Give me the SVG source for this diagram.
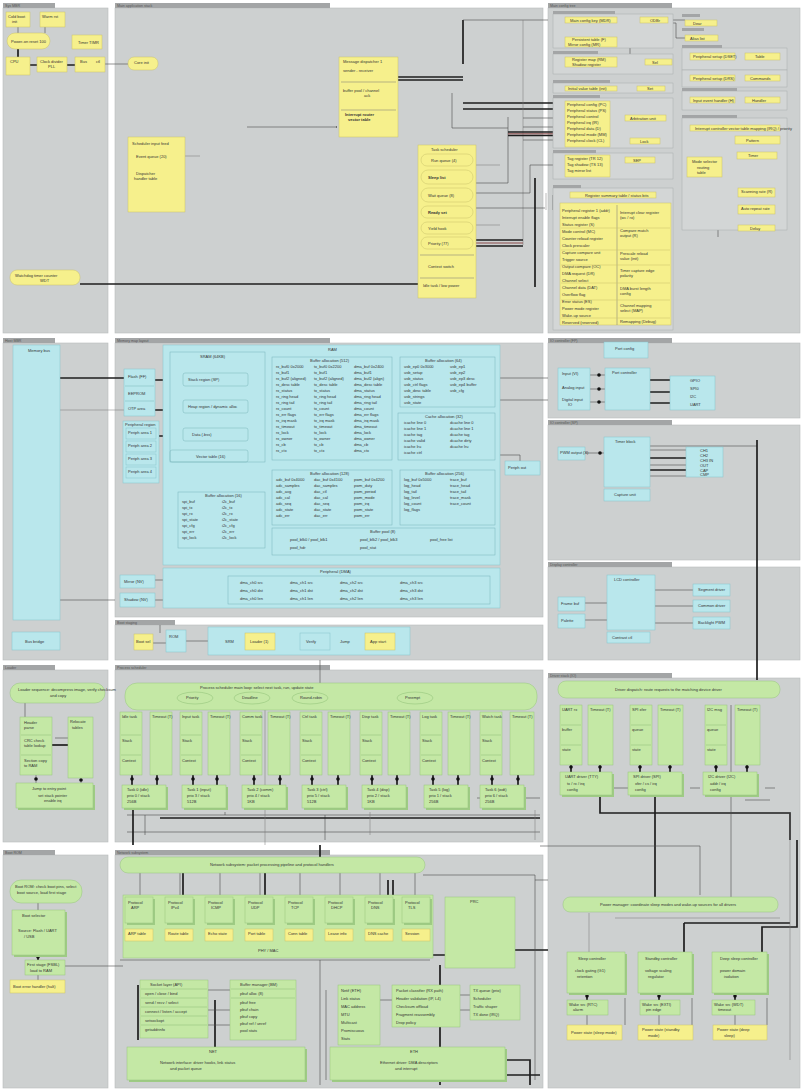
<svg xmlns="http://www.w3.org/2000/svg" width="804" height="1091" viewBox="0 0 804 1091">
<style>
.pn{fill:#cdd0d0;stroke:#b9bcbc;stroke-width:.6}
.hd{fill:#a3a5a6}
.sp{fill:#d3d6d6;stroke:#a9acac;stroke-width:.5}
.y{fill:#f6f08c;stroke:#c9c26a;stroke-width:.5}
.c{fill:#b9e7ec;stroke:#86c3c9;stroke-width:.5}
.g{fill:#c4e8a5;stroke:#96c47e;stroke-width:.5}
.gs{fill:#9ecb84}
.ci{fill:none;stroke:#7ab4ba;stroke-width:.5}
.gi{fill:none;stroke:#8cbf74;stroke-width:.5}
.yi{stroke:#c9c26a;stroke-width:.5}
.l{stroke:#4a4a4a;stroke-width:.6;fill:none}
.lg{stroke:#777;stroke-width:.5;fill:none}
.lk{stroke:#1e1e1e;stroke-width:1.7;fill:none}
.lr{stroke:#8a4a4a;stroke-width:1;fill:none}
.dt{fill:#111}
text{font-family:"Liberation Sans",Arial,sans-serif;font-size:4px;fill:#333}
.ht{font-size:3.6px;fill:#555}
</style>
<defs>
<marker id="a" viewBox="0 0 6 6" refX="5" refY="3" markerWidth="3" markerHeight="3" orient="auto"><path d="M0,0L6,3L0,6z" fill="#333"/></marker>
</defs>
<rect width="804" height="1091" fill="#fff"/>

<g id="panels">
<rect class="pn" x="3" y="8" width="105" height="325"/><rect class="hd" x="3" y="3" width="52" height="5"/>
<rect class="pn" x="115" y="8" width="428" height="325"/><rect class="hd" x="115" y="3" width="215" height="5"/>
<rect class="pn" x="548" y="8" width="252" height="325"/><rect class="hd" x="548" y="3" width="124" height="5"/>
<rect class="pn" x="3" y="343" width="105" height="317"/><rect class="hd" x="3" y="338" width="52" height="5"/>
<rect class="pn" x="115" y="343" width="428" height="274"/><rect class="hd" x="115" y="338" width="215" height="5"/>
<rect class="pn" x="548" y="343" width="252" height="75"/><rect class="hd" x="548" y="338" width="124" height="5"/>
<rect class="pn" x="548" y="425" width="252" height="135"/><rect class="hd" x="548" y="420" width="124" height="5"/>
<rect class="pn" x="548" y="567" width="252" height="93"/><rect class="hd" x="548" y="562" width="124" height="5"/>
<rect class="pn" x="115" y="625" width="428" height="35"/><rect class="hd" x="115" y="620" width="60" height="5"/>
<rect class="pn" x="3" y="670" width="105" height="172"/><rect class="hd" x="3" y="665" width="52" height="5"/>
<rect class="pn" x="115" y="670" width="428" height="172"/><rect class="hd" x="115" y="665" width="215" height="5"/>
<rect class="pn" x="548" y="678" width="252" height="410"/><rect class="hd" x="548" y="673" width="124" height="5"/>
<rect class="pn" x="3" y="855" width="105" height="233"/><rect class="hd" x="3" y="850" width="52" height="5"/>
<rect class="pn" x="115" y="855" width="428" height="233"/><rect class="hd" x="115" y="850" width="215" height="5"/>
<text class="ht" x="5" y="7">Sys MBR</text><text class="ht" x="117" y="7">Main application stack</text><text class="ht" x="550" y="7">Main config tree</text>
<text class="ht" x="5" y="342">Host MBR</text><text class="ht" x="117" y="342">Memory map layout</text><text class="ht" x="550" y="342">IO controller (FP)</text>
<text class="ht" x="550" y="424">IO controller (SP)</text><text class="ht" x="550" y="566">Display controller</text><text class="ht" x="117" y="624">Boot staging</text>
<text class="ht" x="5" y="669">Loader</text><text class="ht" x="117" y="669">Process scheduler</text><text class="ht" x="550" y="677">Driver stack (IO)</text>
<text class="ht" x="5" y="854">Boot ROM</text><text class="ht" x="117" y="854">Network subsystem</text>
</g>

<g id="connectors">
<path class="l" d="M18,27V33M45,27V33"/>
<path class="lk" d="M18,49V57M30,65H37M67,65H75"/>
<path class="l" d="M105,64H128"/>
<path class="lk" d="M80,284H418"/>
<path class="l" d="M247,127H337" marker-end="url(#a)"/>
<path class="lg" d="M185,156H200"/>
<path class="lk" d="M398,77H463M398,80H463"/>
<path class="lk" d="M463,20V64"/>
<path class="l" d="M463,20H548"/>
<path class="lk" d="M463,103H565M463,109H565"/>
<path class="lg" d="M523,20V245M546,193V210"/>
<path class="l" d="M452,93V128H508M508,117V183H476M476,193H530V165H565M476,208H545"/>
<path class="lk" d="M508,132H565M508,135.5H565"/>
<path class="lr" d="M508,133.8H565"/>
<path class="lk" d="M476,240H523M476,246H523"/>
<path class="lr" d="M476,243H523"/>
<path class="lk" d="M535,178V287"/>
<path class="lg" d="M476,165H500M476,225H500"/>
<path class="l" d="M455,268H476M523,118H565M523,127H565M523,140H565"/>
<path class="lk" d="M617,20H640M617,62H645"/>
<path class="l" d="M617,42H630V62M668,20H685M668,23H676V38H685M617,88H637M610,118H625M610,130H620V118M610,142H630M610,158H625M735,57H745M735,78H745M735,100H745M718,131V237M718,140H738M718,155H738M718,175H738M718,192H738M718,209H738M718,227H738"/>
<path class="lk" d="M645,121V138"/>
<path class="l" d="M612,195V203M560,195H553V210"/>
<path class="lk" d="M613,198V206"/>
<path class="lk" d="M60,378H124M155,380H172"/>
<path class="lg" d="M60,410H124"/>
<path class="lk" d="M155,410H172M159,436H172"/>
<path class="l" d="M172,380H183M172,410H183M172,436H183"/>
<path class="l" d="M248,387H258V440H248M248,405H270"/>
<path class="lk" d="M262,410V465"/>
<path class="l" d="M500,378H548M500,400H548M500,455H520V462"/>
<path class="l" d="M60,600H115M155,580H165M155,600H165"/>
<path class="l" d="M590,375H605M590,389H605M590,402H605"/>
<path class="lk" d="M650,380H670M650,392H670M650,403H670"/>
<path class="l" d="M585,453H604"/>
<path class="lk" d="M650,458H686M650,470H686"/>
<path class="l" d="M650,446H757M650,450H686M650,465H686M650,476H686"/>
<path class="lk" d="M757,440V680"/>
<path class="l" d="M585,603H607M585,620H607M655,590H693M655,606H693M655,623H693"/>
<path class="l" d="M153,643H166M186,641H208M275,641H300M330,641H365M395,641H405"/>
<path class="l" d="M160,625V633"/>
<path class="l" d="M25,703V717M55,738H68M36,775V783M81,778V783"/>
<path class="lk" d="M52,745H68"/>
<path class="l" d="M320,660V683"/>
<path class="lk" d="M132,775V785M157,775V785M193,775V785M217,775V785M254,775V785M280,775V785M312,775V785M338,775V785M372,775V785M397,775V785M433,775V785M458,775V785M492,775V785M518,775V785"/>
<path class="l" d="M127,815H540M127,832H540M145,835V815M225,815V812M325,815V840M477,798H540"/>
<path class="lk" d="M160,818H540M133,808V845"/>
<path class="lg" d="M265,710V845M370,812V835M535,810V840"/>
<path class="lk" d="M320,845V858"/>
<path class="lk" d="M571,765V772M600,765V772M640,765V772M670,765V772M716,765V772M747,765V772"/>
<path class="lk" d="M600,795V813H790V840M655,795V897M797,840V927H762V952M684,923H790M684,923V952"/>
<path class="l" d="M540,846H700V895M731,705V897M745,800H770M610,788H630M690,788H700M765,788H775"/>
<path class="lg" d="M615,918H780M589,913V952M790,813V1060"/>
<path class="l" d="M587,1015V1025M659,1015V1025M735,1015V1025M625,1025V998M692,1025V998M767,1025V998"/>
<path class="lk" d="M587,993V1000M659,993V1000M735,993V1000"/>
<path class="l" d="M38,903V910M65,966H123M38,975V980"/>
<path class="lk" d="M38,955V960"/>
<path class="l" d="M140,873V897M180,873V897M220,873V897M260,873V897M300,873V897M340,873V897M380,873V897M415,873V897"/>
<path class="lk" d="M183,873V897M265,873V897M388,880V897M393,880V897"/>
<path class="lk" d="M515,950H548M430,955H515M440,965V1085"/>
<path class="l" d="M120,960H430M320,960V1085M535,880H548M423,875H535V1080"/>
<path class="lk" d="M138,985V1040M215,1000V1070"/>
<path class="lk" d="M505,1075H540M505,1060H530V1085"/>
<path class="l" d="M208,990H230M208,1010H230M208,1025H230M380,1000H392M460,995H470M460,1010H470M326,990V1080"/>
<g id="dots">
<circle class="dt" cx="172" cy="378" r="1.8"/><circle class="dt" cx="172" cy="393" r="1.8"/><circle class="dt" cx="172" cy="409" r="1.8"/><circle class="dt" cx="172" cy="436" r="1.8"/><circle class="dt" cx="253" cy="440" r="1.8"/>
<circle class="dt" cx="599" cy="375" r="1.8"/><circle class="dt" cx="599" cy="389" r="1.8"/><circle class="dt" cx="599" cy="402" r="1.8"/><circle class="dt" cx="600" cy="453" r="1.8"/>
<circle class="dt" cx="132" cy="779" r="1.8"/><circle class="dt" cx="157" cy="779" r="1.8"/><circle class="dt" cx="193" cy="779" r="1.8"/><circle class="dt" cx="217" cy="779" r="1.8"/><circle class="dt" cx="254" cy="779" r="1.8"/><circle class="dt" cx="280" cy="779" r="1.8"/><circle class="dt" cx="312" cy="779" r="1.8"/><circle class="dt" cx="338" cy="779" r="1.8"/><circle class="dt" cx="372" cy="779" r="1.8"/><circle class="dt" cx="397" cy="779" r="1.8"/><circle class="dt" cx="433" cy="779" r="1.8"/><circle class="dt" cx="458" cy="779" r="1.8"/><circle class="dt" cx="492" cy="779" r="1.8"/><circle class="dt" cx="518" cy="779" r="1.8"/>
<circle class="dt" cx="36" cy="779" r="1.8"/><circle class="dt" cx="81" cy="780" r="1.8"/>
<circle class="dt" cx="571" cy="767" r="1.8"/><circle class="dt" cx="600" cy="767" r="1.8"/><circle class="dt" cx="640" cy="767" r="1.8"/><circle class="dt" cx="670" cy="767" r="1.8"/><circle class="dt" cx="716" cy="767" r="1.8"/><circle class="dt" cx="747" cy="767" r="1.8"/>
<circle class="dt" cx="587" cy="996" r="1.8"/><circle class="dt" cx="659" cy="996" r="1.8"/><circle class="dt" cx="735" cy="996" r="1.8"/>
<circle class="dt" cx="38" cy="957" r="1.8"/><circle class="dt" cx="645" cy="129" r="1.5"/>
</g>
</g>

<g id="a1"><rect class="y" x="6" y="12" width="24" height="15"/><text x="8" y="18">Cold boot</text><text x="12" y="23">init</text></g>
<g id="a2"><rect class="y" x="40" y="12" width="25" height="15"/><text x="42" y="18">Warm rst</text></g>
<g id="a3"><rect class="y" x="7" y="33" width="43" height="16" rx="8"/><text x="11" y="43">Power-on reset 100</text></g>
<g id="a4"><rect class="y" x="72" y="35" width="30" height="14"/><text x="78" y="44">Timer TIMR</text></g>
<g id="a5"><rect class="y" x="6" y="57" width="24" height="18"/><text x="10" y="63">CPU</text></g>
<g id="a6"><rect class="y" x="37" y="57" width="30" height="15"/><text x="40" y="63">Clock divider</text><text x="48" y="68">PLL</text></g>
<g id="a7"><rect class="y" x="75" y="57" width="30" height="15"/><text x="80" y="63">Bus</text><text x="96" y="63">ctl</text></g>
<g id="a8"><rect class="y" x="10" y="270" width="70" height="15" rx="7"/><text x="15" y="277">Watchdog timer counter</text><text x="40" y="282">WDT</text></g>

<g id="b1"><rect class="y" x="128" y="57" width="30" height="13" rx="6"/><text x="134" y="64">Core init</text></g>
<g id="b2"><rect class="y" x="128" y="137" width="57" height="75"/><text x="132" y="145">Scheduler input feed</text><text x="136" y="158">Event queue (20)</text><text x="136" y="175">Dispatcher</text><text x="134" y="180">handler table</text></g>
<g id="b3"><rect class="y" x="339" y="57" width="59" height="80"/><text x="343" y="63">Message dispatcher 1</text><text x="343" y="72">sender - receiver</text><line class="lg" x1="341" y1="82" x2="396" y2="82"/><text x="343" y="92">buffer pool / channel</text><text x="364" y="97">ack</text><line class="lg" x1="341" y1="110" x2="396" y2="110"/><text x="345" y="116" style="font-weight:bold">Interrupt router</text><text x="348" y="121" style="font-weight:bold">vector table</text></g>
<g id="b4"><rect class="y" x="418" y="145" width="58" height="153"/><text x="431" y="151">Task scheduler</text><rect class="y" x="421" y="154" width="52" height="12" rx="6"/><text x="431" y="162">Run queue (4)</text><rect class="y" x="421" y="170" width="52" height="14" rx="7"/><text x="428" y="179" style="font-weight:bold">Sleep list</text><rect class="y" x="421" y="188" width="52" height="14" rx="7"/><text x="428" y="197">Wait queue (8)</text><rect class="y" x="421" y="206" width="52" height="12" rx="6"/><text x="428" y="214" style="font-weight:bold">Ready set</text><rect class="y" x="421" y="222" width="52" height="12" rx="6"/><text x="428" y="230">Yield hook</text><rect class="y" x="421" y="237" width="52" height="12" rx="6"/><text x="428" y="245">Priority (77)</text><line class="lg" x1="420" y1="255" x2="474" y2="255"/><text x="428" y="268">Context switch</text><line class="lg" x1="420" y1="278" x2="474" y2="278"/><text x="423" y="287">Idle task / low power</text></g>

<g id="c-sub">
<rect class="sp" x="553" y="14" width="120" height="34"/><rect class="hd" x="553" y="11" width="62" height="3"/>
<rect class="sp" x="553" y="54" width="120" height="20"/><rect class="hd" x="553" y="51" width="45" height="3"/>
<rect class="sp" x="553" y="83" width="120" height="10"/><rect class="hd" x="553" y="80" width="57" height="3"/>
<rect class="sp" x="553" y="98" width="120" height="50"/><rect class="hd" x="553" y="95" width="47" height="3"/>
<rect class="sp" x="553" y="153" width="120" height="26"/><rect class="hd" x="553" y="150" width="43" height="3"/>
<rect class="sp" x="553" y="188" width="120" height="142"/><rect class="hd" x="553" y="185" width="28" height="3"/>
<rect class="hd" x="682" y="14" width="18" height="3"/><rect class="hd" x="682" y="28" width="22" height="3"/><rect class="hd" x="682" y="45" width="40" height="3"/>
<rect class="sp" x="682" y="48" width="105" height="22"/><rect class="sp" x="682" y="70" width="105" height="17"/>
<rect class="hd" x="682" y="88" width="55" height="3"/><rect class="sp" x="682" y="91" width="105" height="19"/>
<rect class="hd" x="682" y="115" width="55" height="3"/><rect class="sp" x="682" y="118" width="105" height="112"/>
</g>
<g id="c1"><rect class="y" x="565" y="17" width="52" height="6"/><text x="570" y="21.5">Main config key (MDR)</text></g>
<g id="c2"><rect class="y" x="640" y="17" width="28" height="6"/><text x="650" y="21.5">ODBr</text></g>
<g id="c3"><rect class="y" x="565" y="37" width="52" height="10"/><text x="572" y="41">Persistent table (F)</text><text x="568" y="46">Mirror config (MR)</text></g>
<g id="c4"><rect class="y" x="565" y="57" width="52" height="10"/><text x="572" y="61">Register map (RM)</text><text x="572" y="66">Shadow register</text></g>
<g id="c5"><rect class="y" x="645" y="59" width="27" height="6"/><text x="652" y="63.5">Sel</text></g>
<g id="c6"><rect class="y" x="565" y="86" width="52" height="5"/><text x="568" y="90">Initial value table (init)</text></g>
<g id="c7"><rect class="y" x="637" y="86" width="28" height="5"/><text x="647" y="90">Set</text></g>
<g id="c8"><rect class="y" x="565" y="101" width="45" height="46"/><text x="567" y="106">Peripheral config (PC)</text><text x="567" y="112">Peripheral status (PS)</text><text x="567" y="118">Peripheral control</text><text x="567" y="124">Peripheral irq (IR)</text><text x="567" y="130">Peripheral data (D)</text><text x="567" y="136">Peripheral mode (MM)</text><text x="567" y="142">Peripheral clock (CL)</text></g>
<g id="c9"><rect class="y" x="625" y="115" width="41" height="6"/><text x="630" y="119.5">Arbitration unit</text></g>
<g id="c10"><rect class="y" x="630" y="138" width="30" height="6"/><text x="640" y="142.5">Lock</text></g>
<g id="c11"><rect class="y" x="565" y="155" width="45" height="22"/><text x="567" y="160">Tag register (TR 12)</text><text x="567" y="166">Tag shadow (TS 13)</text><text x="567" y="172">Tag mirror list</text></g>
<g id="c12"><rect class="y" x="625" y="157" width="30" height="6"/><text x="633" y="161.5">SEP</text></g>
<g id="c13"><rect class="y" x="685" y="20" width="32" height="6"/><text x="693" y="24.5">Dear</text></g>
<g id="c14"><rect class="y" x="685" y="35" width="33" height="6"/><text x="690" y="39.5">Alias list</text></g>
<g id="c15"><rect class="y" x="690" y="53" width="45" height="7"/><text x="693" y="58">Peripheral setup (DSET)</text></g>
<g id="c16"><rect class="y" x="745" y="53" width="35" height="7"/><text x="755" y="58">Table</text></g>
<g id="c17"><rect class="y" x="690" y="75" width="45" height="6"/><text x="693" y="79.5">Peripheral setup (DRS)</text></g>
<g id="c18"><rect class="y" x="745" y="75" width="35" height="6"/><text x="750" y="79.5">Commands</text></g>
<g id="c19"><rect class="y" x="690" y="97" width="45" height="6"/><text x="693" y="101.5">Input event handler (H)</text></g>
<g id="c20"><rect class="y" x="745" y="97" width="35" height="6"/><text x="752" y="101.5">Handler</text></g>
<g id="c21"><rect class="y" x="690" y="125" width="90" height="6"/><text x="695" y="129.5">Interrupt controller vector table mapping (IRQ) / priority</text></g>
<g id="c22"><rect class="y" x="687" y="157" width="35" height="20"/><text x="692" y="163">Mode selector</text><text x="697" y="169">routing</text><text x="697" y="174">table</text></g>
<g id="c23"><rect class="y" x="735" y="136" width="45" height="8"/><text x="746" y="141.5">Pattern</text></g>
<g id="c24"><rect class="y" x="737" y="152" width="40" height="7"/><text x="748" y="157">Timer</text></g>
<g id="c25"><rect class="y" x="738" y="188" width="37" height="9"/><text x="741" y="193">Scanning rate (R)</text></g>
<g id="c26"><rect class="y" x="738" y="205" width="37" height="9"/><text x="741" y="210">Auto repeat rate</text></g>
<g id="c27"><rect class="y" x="738" y="225" width="37" height="6"/><text x="750" y="229.5">Delay</text></g>
<g id="c28"><rect class="y" x="570" y="192" width="86" height="6"/><text x="585" y="196.5">Register summary table / status bits</text></g>
<g id="c29"><rect class="y" x="560" y="203" width="111" height="122"/>
<line class="lg" x1="617" y1="205" x2="617" y2="325"/>
<path class="yi" d="M561,228H670M561,250H670M561,265H670M561,283H670M561,300H670M561,318H670"/>
<text x="562" y="212">Peripheral register 1 (addr)</text><text x="562" y="219">Interrupt enable flags</text><text x="562" y="226">Status register (S)</text><text x="562" y="233">Mode control (MC)</text><text x="562" y="240">Counter reload register</text><text x="562" y="247">Clock prescaler</text><text x="562" y="254">Capture compare unit</text><text x="562" y="261">Trigger source</text><text x="562" y="268">Output compare (OC)</text><text x="562" y="275">DMA request (DR)</text><text x="562" y="282">Channel select</text><text x="562" y="289">Channel data (DAT)</text><text x="562" y="296">Overflow flag</text><text x="562" y="303">Error status (ES)</text><text x="562" y="310">Power mode register</text><text x="562" y="317">Wake-up source</text><text x="562" y="324">Reserved (reserved)</text>
<text x="620" y="214">Interrupt clear register</text><text x="620" y="219">(wc / ro)</text><text x="620" y="232">Compare match</text><text x="620" y="237">output (R)</text><text x="620" y="255">Prescale reload</text><text x="620" y="260">value (init)</text><text x="620" y="272">Timer capture edge</text><text x="620" y="277">polarity</text><text x="620" y="290">DMA burst length</text><text x="620" y="295">config</text><text x="620" y="307">Channel mapping</text><text x="620" y="312">select (MAP)</text><text x="620" y="323">Remapping (Debug)</text>
</g>

<g id="d1"><rect class="c" x="13" y="345" width="47" height="275"/><text x="28" y="352">Memory bus</text></g>
<g id="d2"><rect class="c" x="12" y="632" width="48" height="18"/><text x="25" y="643">Bus bridge</text></g>

<g id="e1"><rect class="c" x="124" y="369" width="31" height="47"/><text x="128" y="378">Flash (FF)</text><line class="ci" x1="125" y1="386" x2="154" y2="386"/><text x="128" y="395">EEPROM</text><line class="ci" x1="125" y1="401" x2="154" y2="401"/><text x="128" y="410">OTP area</text></g>
<g id="e2"><rect class="c" x="123" y="421" width="36" height="62"/><text x="125" y="426">Peripheral region</text><rect class="c" x="126" y="428" width="30" height="11"/><text x="128" y="434">Periph area 1</text><rect class="c" x="126" y="441" width="30" height="11"/><text x="128" y="447">Periph area 2</text><rect class="c" x="126" y="454" width="30" height="11"/><text x="128" y="460">Periph area 3</text><rect class="c" x="126" y="467" width="30" height="11"/><text x="128" y="473">Periph area 4</text></g>
<g id="e3"><rect class="c" x="163" y="345" width="337" height="220"/>
<rect class="ci" x="170" y="352" width="95" height="110"/><text x="200" y="358">SRAM (64KB)</text>
<rect class="ci" x="183" y="373" width="65" height="13" rx="2"/><text x="188" y="381">Stack region (SP)</text>
<rect class="ci" x="183" y="400" width="65" height="13" rx="2"/><text x="188" y="408">Heap region / dynamic alloc</text>
<rect class="ci" x="183" y="428" width="65" height="13" rx="2"/><text x="192" y="436">Data (.bss)</text>
<rect class="ci" x="170" y="450" width="78" height="12" rx="2"/><text x="196" y="458">Vector table (16)</text>
<text x="328" y="351">RAM</text>
<rect class="ci" x="272" y="357" width="120" height="103"/><text x="310" y="362">Buffer allocation (512)</text>
<rect class="ci" x="400" y="357" width="95" height="50"/><text x="425" y="362">Buffer allocation (64)</text>
<rect class="ci" x="398" y="413" width="97" height="47"/><text x="425" y="418">Cache allocation (32)</text>
<rect class="ci" x="178" y="492" width="87" height="56"/><text x="205" y="497">Buffer allocation (16)</text>
<rect class="ci" x="272" y="470" width="120" height="55"/><text x="310" y="475">Buffer allocation (128)</text>
<rect class="ci" x="400" y="470" width="95" height="55"/><text x="425" y="475">Buffer allocation (256)</text>
<rect class="ci" x="272" y="528" width="223" height="27"/><text x="370" y="533">Buffer pool (8)</text>
</g>
<g id="e3txt" style="font-size:3.2px">
<text x="276" y="368">rx_buf0 0x2000</text><text x="314" y="368">tx_buf0 0x2200</text><text x="354" y="368">dma_buf 0x2400</text>
<text x="276" y="374">rx_buf1</text><text x="314" y="374">tx_buf1</text><text x="354" y="374">dma_buf1</text>
<text x="276" y="380">rx_buf2 (aligned)</text><text x="314" y="380">tx_buf2 (aligned)</text><text x="354" y="380">dma_buf2 (align)</text>
<text x="276" y="386">rx_desc table</text><text x="314" y="386">tx_desc table</text><text x="354" y="386">dma_desc table</text>
<text x="276" y="392">rx_status</text><text x="314" y="392">tx_status</text><text x="354" y="392">dma_status</text>
<text x="276" y="398">rx_ring head</text><text x="314" y="398">tx_ring head</text><text x="354" y="398">dma_ring head</text>
<text x="276" y="404">rx_ring tail</text><text x="314" y="404">tx_ring tail</text><text x="354" y="404">dma_ring tail</text>
<text x="276" y="410">rx_count</text><text x="314" y="410">tx_count</text><text x="354" y="410">dma_count</text>
<text x="276" y="416">rx_err flags</text><text x="314" y="416">tx_err flags</text><text x="354" y="416">dma_err flags</text>
<text x="276" y="422">rx_irq mask</text><text x="314" y="422">tx_irq mask</text><text x="354" y="422">dma_irq mask</text>
<text x="276" y="428">rx_timeout</text><text x="314" y="428">tx_timeout</text><text x="354" y="428">dma_timeout</text>
<text x="276" y="434">rx_lock</text><text x="314" y="434">tx_lock</text><text x="354" y="434">dma_lock</text>
<text x="276" y="440">rx_owner</text><text x="314" y="440">tx_owner</text><text x="354" y="440">dma_owner</text>
<text x="276" y="446">rx_cb</text><text x="314" y="446">tx_cb</text><text x="354" y="446">dma_cb</text>
<text x="276" y="452">rx_ctx</text><text x="314" y="452">tx_ctx</text><text x="354" y="452">dma_ctx</text>
<text x="404" y="368">usb_ep0 0x3000</text><text x="450" y="368">usb_ep1</text><text x="404" y="374">usb_setup</text><text x="450" y="374">usb_ep2</text><text x="404" y="380">usb_status</text><text x="450" y="380">usb_ep3 desc</text><text x="404" y="386">usb_ctrl flags</text><text x="450" y="386">usb_ep4 buffer</text><text x="404" y="392">usb_desc table</text><text x="450" y="392">usb_cfg</text><text x="404" y="398">usb_strings</text><text x="404" y="404">usb_state</text>
<text x="404" y="424">icache line 0</text><text x="450" y="424">dcache line 0</text><text x="404" y="430">icache line 1</text><text x="450" y="430">dcache line 1</text><text x="404" y="436">icache tag</text><text x="450" y="436">dcache tag</text><text x="404" y="442">icache valid</text><text x="450" y="442">dcache dirty</text><text x="404" y="448">icache lru</text><text x="450" y="448">dcache lru</text><text x="404" y="454">icache ctrl</text>
<text x="182" y="503">spi_buf</text><text x="222" y="503">i2c_buf</text><text x="182" y="509">spi_tx</text><text x="222" y="509">i2c_tx</text><text x="182" y="515">spi_rx</text><text x="222" y="515">i2c_rx</text><text x="182" y="521">spi_state</text><text x="222" y="521">i2c_state</text><text x="182" y="527">spi_cfg</text><text x="222" y="527">i2c_cfg</text><text x="182" y="533">spi_err</text><text x="222" y="533">i2c_err</text><text x="182" y="539">spi_lock</text><text x="222" y="539">i2c_lock</text>
<text x="276" y="481">adc_buf 0x4000</text><text x="314" y="481">dac_buf 0x4100</text><text x="354" y="481">pwm_buf 0x4200</text><text x="276" y="487">adc_samples</text><text x="314" y="487">dac_samples</text><text x="354" y="487">pwm_duty</text><text x="276" y="493">adc_avg</text><text x="314" y="493">dac_ctl</text><text x="354" y="493">pwm_period</text><text x="276" y="499">adc_cal</text><text x="314" y="499">dac_cal</text><text x="354" y="499">pwm_mode</text><text x="276" y="505">adc_seq</text><text x="314" y="505">dac_seq</text><text x="354" y="505">pwm_irq</text><text x="276" y="511">adc_state</text><text x="314" y="511">dac_state</text><text x="354" y="511">pwm_state</text><text x="276" y="517">adc_err</text><text x="314" y="517">dac_err</text><text x="354" y="517">pwm_err</text>
<text x="404" y="481">log_buf 0x5000</text><text x="450" y="481">trace_buf</text><text x="404" y="487">log_head</text><text x="450" y="487">trace_head</text><text x="404" y="493">log_tail</text><text x="450" y="493">trace_tail</text><text x="404" y="499">log_level</text><text x="450" y="499">trace_mask</text><text x="404" y="505">log_count</text><text x="450" y="505">trace_count</text><text x="404" y="511">log_flags</text>
<text x="290" y="541">pool_blk0 / pool_blk1</text><text x="360" y="541">pool_blk2 / pool_blk3</text><text x="430" y="541">pool_free list</text><text x="290" y="549">pool_hdr</text><text x="360" y="549">pool_stat</text>
</g>
<g id="e4"><rect class="c" x="163" y="568" width="337" height="40"/><text x="320" y="573">Peripheral (DMA)</text><rect class="ci" x="228" y="576" width="262" height="28"/>
<text x="240" y="584">dma_ch0 src</text><text x="290" y="584">dma_ch1 src</text><text x="340" y="584">dma_ch2 src</text><text x="400" y="584">dma_ch3 src</text>
<text x="240" y="592">dma_ch0 dst</text><text x="290" y="592">dma_ch1 dst</text><text x="340" y="592">dma_ch2 dst</text><text x="400" y="592">dma_ch3 dst</text>
<text x="240" y="600">dma_ch0 len</text><text x="290" y="600">dma_ch1 len</text><text x="340" y="600">dma_ch2 len</text><text x="400" y="600">dma_ch3 len</text></g>
<g id="e5"><rect class="c" x="120" y="575" width="35" height="13"/><text x="124" y="583">Mirror (NV)</text></g>
<g id="e6"><rect class="c" x="120" y="593" width="35" height="14"/><text x="124" y="601">Shadow (NV)</text></g>
<g id="e7"><rect class="c" x="505" y="461" width="35" height="14"/><text x="508" y="469">Periph out</text></g>

<g id="f1"><rect class="c" x="604" y="342" width="44" height="16"/><text x="615" y="350">Port config</text></g>
<g id="f2"><rect class="c" x="558" y="368" width="32" height="42"/><text x="562" y="375">Input (VI)</text><text x="562" y="389">Analog input</text><text x="562" y="401">Digital input</text><text x="568" y="406">IO</text></g>
<g id="f3"><rect class="c" x="605" y="368" width="45" height="42"/><text x="612" y="374">Port controller</text></g>
<g id="f4"><rect class="c" x="670" y="376" width="45" height="34"/><text x="690" y="382">GPIO</text><text x="690" y="390">SPI0</text><text x="690" y="398">I2C</text><text x="690" y="406">UART</text></g>
<g id="g1"><rect class="c" x="558" y="447" width="27" height="13"/><text x="560" y="454">PWM output (X)</text></g>
<g id="g2"><rect class="c" x="604" y="437" width="46" height="50"/><text x="615" y="443">Timer block</text></g>
<g id="g3"><rect class="c" x="686" y="447" width="37" height="30"/><text x="700" y="452">CH1</text><text x="700" y="457">CH2</text><text x="700" y="462">CH3 IN</text><text x="700" y="467">OUT</text><text x="700" y="472">CAP</text><text x="700" y="476">CMP</text></g>
<g id="g4"><rect class="c" x="604" y="489" width="46" height="12"/><text x="614" y="496">Capture unit</text></g>
<g id="h1"><rect class="c" x="558" y="597" width="27" height="14"/><text x="561" y="605">Frame buf</text></g>
<g id="h2"><rect class="c" x="558" y="614" width="27" height="14"/><text x="561" y="622">Palette</text></g>
<g id="h3"><rect class="c" x="607" y="575" width="48" height="55"/><text x="614" y="581">LCD controller</text></g>
<g id="h4"><rect class="c" x="693" y="584" width="37" height="12"/><text x="698" y="591">Segment driver</text></g>
<g id="h5"><rect class="c" x="693" y="600" width="37" height="12"/><text x="698" y="607">Common driver</text></g>
<g id="h6"><rect class="c" x="693" y="617" width="37" height="12"/><text x="698" y="624">Backlight PWM</text></g>
<g id="h7"><rect class="c" x="607" y="632" width="43" height="11"/><text x="612" y="639">Contrast ctl</text></g>

<g id="i1"><rect class="y" x="134" y="634" width="19" height="16"/><text x="136" y="643">Boot sel</text></g>
<g id="i2"><rect class="c" x="166" y="630" width="20" height="22"/><text x="169" y="638">ROM</text></g>
<g id="i3"><rect class="c" x="208" y="627" width="202" height="28"/><text x="225" y="643">SRM</text><rect class="y" x="245" y="633" width="30" height="17"/><text x="250" y="643">Loader (1)</text><rect class="c" x="300" y="633" width="30" height="17"/><text x="306" y="643">Verify</text><text x="340" y="643">Jump</text><rect class="y" x="365" y="633" width="30" height="17"/><text x="370" y="643">App start</text></g>

<g id="j1"><rect class="g" x="10" y="683" width="95" height="20" rx="10"/><text x="18" y="691">Loader sequence: decompress image, verify checksum</text><text x="50" y="697">and copy</text></g>
<g id="j2"><rect class="g" x="20" y="717" width="32" height="58"/><text x="24" y="724">Header</text><text x="24" y="729">parse</text><line class="gi" x1="21" y1="735" x2="51" y2="735"/><text x="24" y="742">CRC check</text><text x="24" y="747">table lookup</text><line class="gi" x1="21" y1="755" x2="51" y2="755"/><text x="24" y="762">Section copy</text><text x="24" y="767">to RAM</text></g>
<g id="j3"><rect class="g" x="68" y="717" width="25" height="61"/><text x="70" y="723">Relocate</text><text x="72" y="729">tables</text></g>
<g id="j4"><rect class="gs" x="18" y="785" width="77" height="25"/><rect class="g" x="16" y="783" width="77" height="25"/><text x="32" y="790">Jump to entry point</text><text x="38" y="797">set stack pointer</text><text x="44" y="802">enable irq</text></g>

<g id="k0"><rect class="g" x="125" y="683" width="412" height="27" rx="12"/><text x="200" y="689">Process scheduler main loop: select next task, run, update state</text><ellipse class="gi" cx="195" cy="698" rx="18" ry="6"/><text x="186" y="699">Priority</text><ellipse class="gi" cx="252" cy="698" rx="18" ry="6"/><text x="242" y="699">Deadline</text><ellipse class="gi" cx="310" cy="698" rx="18" ry="6"/><text x="300" y="699">Round-robin</text><ellipse class="gi" cx="415" cy="698" rx="18" ry="6"/><text x="405" y="699">Preempt</text></g>
<g id="k1"><rect class="g" x="120" y="712" width="22" height="63"/><text x="122" y="718">Idle task</text><line class="gi" x1="121" y1="735" x2="141" y2="735"/><text x="122" y="742">Stack</text><line class="gi" x1="121" y1="755" x2="141" y2="755"/><text x="122" y="762">Context</text><rect class="g" x="150" y="712" width="22" height="63"/><text x="152" y="718">Timeout (T)</text><rect class="gs" x="124" y="787" width="44" height="23"/><rect class="g" x="122" y="785" width="44" height="23"/><text x="127" y="791">Task 0 (idle)</text><text x="127" y="797">prio 0 / stack</text><text x="127" y="803">256B</text></g>
<g id="k2"><rect class="g" x="180" y="712" width="22" height="63"/><text x="182" y="718">Input task</text><line class="gi" x1="181" y1="735" x2="201" y2="735"/><text x="182" y="742">Stack</text><line class="gi" x1="181" y1="755" x2="201" y2="755"/><text x="182" y="762">Context</text><rect class="g" x="208" y="712" width="22" height="63"/><text x="210" y="718">Timeout (T)</text><rect class="gs" x="184" y="787" width="44" height="23"/><rect class="g" x="182" y="785" width="44" height="23"/><text x="187" y="791">Task 1 (input)</text><text x="187" y="797">prio 3 / stack</text><text x="187" y="803">512B</text></g>
<g id="k3"><rect class="g" x="240" y="712" width="22" height="63"/><text x="242" y="718">Comm task</text><line class="gi" x1="241" y1="735" x2="261" y2="735"/><text x="242" y="742">Stack</text><line class="gi" x1="241" y1="755" x2="261" y2="755"/><text x="242" y="762">Context</text><rect class="g" x="268" y="712" width="22" height="63"/><text x="270" y="718">Timeout (T)</text><rect class="gs" x="244" y="787" width="44" height="23"/><rect class="g" x="242" y="785" width="44" height="23"/><text x="247" y="791">Task 2 (comm)</text><text x="247" y="797">prio 4 / stack</text><text x="247" y="803">1KB</text></g>
<g id="k4"><rect class="g" x="300" y="712" width="22" height="63"/><text x="302" y="718">Ctrl task</text><line class="gi" x1="301" y1="735" x2="321" y2="735"/><text x="302" y="742">Stack</text><line class="gi" x1="301" y1="755" x2="321" y2="755"/><text x="302" y="762">Context</text><rect class="g" x="328" y="712" width="22" height="63"/><text x="330" y="718">Timeout (T)</text><rect class="gs" x="304" y="787" width="44" height="23"/><rect class="g" x="302" y="785" width="44" height="23"/><text x="307" y="791">Task 3 (ctrl)</text><text x="307" y="797">prio 5 / stack</text><text x="307" y="803">512B</text></g>
<g id="k5"><rect class="g" x="360" y="712" width="22" height="63"/><text x="362" y="718">Disp task</text><line class="gi" x1="361" y1="735" x2="381" y2="735"/><text x="362" y="742">Stack</text><line class="gi" x1="361" y1="755" x2="381" y2="755"/><text x="362" y="762">Context</text><rect class="g" x="388" y="712" width="22" height="63"/><text x="390" y="718">Timeout (T)</text><rect class="gs" x="364" y="787" width="44" height="23"/><rect class="g" x="362" y="785" width="44" height="23"/><text x="367" y="791">Task 4 (disp)</text><text x="367" y="797">prio 2 / stack</text><text x="367" y="803">1KB</text></g>
<g id="k6"><rect class="g" x="420" y="712" width="22" height="63"/><text x="422" y="718">Log task</text><line class="gi" x1="421" y1="735" x2="441" y2="735"/><text x="422" y="742">Stack</text><line class="gi" x1="421" y1="755" x2="441" y2="755"/><text x="422" y="762">Context</text><rect class="g" x="448" y="712" width="22" height="63"/><text x="450" y="718">Timeout (T)</text><rect class="gs" x="426" y="787" width="44" height="23"/><rect class="g" x="424" y="785" width="44" height="23"/><text x="429" y="791">Task 5 (log)</text><text x="429" y="797">prio 1 / stack</text><text x="429" y="803">256B</text></g>
<g id="k7"><rect class="g" x="480" y="712" width="22" height="63"/><text x="482" y="718">Watch task</text><line class="gi" x1="481" y1="735" x2="501" y2="735"/><text x="482" y="742">Stack</text><line class="gi" x1="481" y1="755" x2="501" y2="755"/><text x="482" y="762">Context</text><rect class="g" x="510" y="712" width="24" height="63"/><text x="512" y="718">Timeout (T)</text><rect class="gs" x="482" y="787" width="44" height="23"/><rect class="g" x="480" y="785" width="44" height="23"/><text x="485" y="791">Task 6 (wdt)</text><text x="485" y="797">prio 6 / stack</text><text x="485" y="803">256B</text></g>

<g id="l0"><rect class="g" x="558" y="681" width="222" height="17" rx="8"/><text x="615" y="691">Driver dispatch: route requests to the matching device driver</text></g>
<g id="l1"><rect class="g" x="560" y="705" width="22" height="60"/><text x="562" y="711">UART rx</text><line class="gi" x1="561" y1="725" x2="581" y2="725"/><text x="562" y="731">buffer</text><line class="gi" x1="561" y1="745" x2="581" y2="745"/><text x="562" y="751">state</text><rect class="g" x="588" y="705" width="25" height="60"/><text x="590" y="711">Timeout (T)</text><rect class="gs" x="562" y="774" width="52" height="23"/><rect class="g" x="560" y="772" width="52" height="23"/><text x="565" y="778">UART driver (TTY)</text><text x="567" y="785">tx / rx / irq</text><text x="567" y="791">config</text></g>
<g id="l2"><rect class="g" x="630" y="705" width="22" height="60"/><text x="632" y="711">SPI xfer</text><line class="gi" x1="631" y1="725" x2="651" y2="725"/><text x="632" y="731">queue</text><line class="gi" x1="631" y1="745" x2="651" y2="745"/><text x="632" y="751">state</text><rect class="g" x="658" y="705" width="25" height="60"/><text x="660" y="711">Timeout (T)</text><rect class="gs" x="630" y="774" width="54" height="23"/><rect class="g" x="628" y="772" width="54" height="23"/><text x="633" y="778">SPI driver (SPI)</text><text x="635" y="785">xfer / cs / irq</text><text x="635" y="791">config</text></g>
<g id="l3"><rect class="g" x="705" y="705" width="22" height="60"/><text x="707" y="711">I2C msg</text><line class="gi" x1="706" y1="725" x2="726" y2="725"/><text x="707" y="731">queue</text><line class="gi" x1="706" y1="745" x2="726" y2="745"/><text x="707" y="751">state</text><rect class="g" x="735" y="705" width="25" height="60"/><text x="737" y="711">Timeout (T)</text><rect class="gs" x="705" y="774" width="54" height="23"/><rect class="g" x="703" y="772" width="54" height="23"/><text x="708" y="778">I2C driver (I2C)</text><text x="710" y="785">addr / irq</text><text x="710" y="791">config</text></g>
<g id="l4"><rect class="g" x="563" y="897" width="215" height="15" rx="7"/><text x="600" y="906">Power manager: coordinate sleep modes and wake-up sources for all drivers</text></g>
<g id="l5"><rect class="gs" x="569" y="954" width="58" height="41"/><rect class="g" x="567" y="952" width="58" height="41"/><text x="578" y="960">Sleep controller</text><text x="575" y="972">clock gating (G1)</text><text x="577" y="978">retention</text></g>
<g id="l6"><rect class="gs" x="640" y="954" width="54" height="41"/><rect class="g" x="638" y="952" width="54" height="41"/><text x="645" y="960">Standby controller</text><text x="645" y="972">voltage scaling</text><text x="648" y="978">regulator</text></g>
<g id="l7"><rect class="gs" x="714" y="954" width="55" height="41"/><rect class="g" x="712" y="952" width="55" height="41"/><text x="720" y="960">Deep sleep controller</text><text x="720" y="972">power domain</text><text x="724" y="978">isolation</text></g>
<g id="l8"><rect class="g" x="567" y="1000" width="41" height="15"/><text x="569" y="1006">Wake src (RTC)</text><text x="573" y="1011">alarm</text></g>
<g id="l9"><rect class="g" x="640" y="1000" width="40" height="15"/><text x="642" y="1006">Wake src (EXTI)</text><text x="646" y="1011">pin edge</text></g>
<g id="l10"><rect class="g" x="712" y="1000" width="43" height="15"/><text x="714" y="1006">Wake src (WDT)</text><text x="718" y="1011">timeout</text></g>
<g id="l11"><rect class="y" x="567" y="1025" width="55" height="15"/><text x="571" y="1034">Power state (sleep mode)</text></g>
<g id="l12"><rect class="y" x="638" y="1025" width="55" height="15"/><text x="642" y="1031">Power state (standby</text><text x="648" y="1037">mode)</text></g>
<g id="l13"><rect class="y" x="713" y="1025" width="54" height="15"/><text x="717" y="1031">Power state (deep</text><text x="724" y="1037">sleep)</text></g>

<g id="m1"><rect class="g" x="10" y="880" width="72" height="23" rx="11"/><text x="15" y="888">Boot ROM: check boot pins, select</text><text x="17" y="894">boot source, load first stage</text></g>
<g id="m2"><rect class="gs" x="14" y="912" width="53" height="45"/><rect class="g" x="12" y="910" width="53" height="45"/><text x="22" y="917">Boot selector</text><text x="18" y="932">Source: Flash / UART</text><text x="24" y="938">/ USB</text></g>
<g id="m3"><rect class="g" x="25" y="960" width="40" height="15"/><text x="27" y="966">First stage (FSBL)</text><text x="30" y="972">load to RAM</text></g>
<g id="m4"><rect class="y" x="10" y="980" width="55" height="13"/><text x="13" y="988">Boot error handler (halt)</text></g>

<g id="n0"><rect class="g" x="120" y="857" width="305" height="16" rx="8"/><text x="210" y="866">Network subsystem: packet processing pipeline and protocol handlers</text></g>
<g id="n1"><rect class="g" x="123" y="895" width="310" height="63"/><text x="258" y="952">PHY / MAC</text></g>
<g id="n2"><rect class="gs" x="127" y="899" width="28" height="26"/><rect class="g" x="125" y="897" width="28" height="26"/><text x="128" y="904">Protocol</text><text x="131" y="909">ARP</text><rect class="y" x="125" y="929" width="28" height="12"/><text x="128" y="935">ARP table</text></g>
<g id="n3"><rect class="gs" x="167" y="899" width="28" height="26"/><rect class="g" x="165" y="897" width="28" height="26"/><text x="168" y="904">Protocol</text><text x="171" y="909">IPv4</text><rect class="y" x="165" y="929" width="28" height="12"/><text x="168" y="935">Route table</text></g>
<g id="n4"><rect class="gs" x="207" y="899" width="28" height="26"/><rect class="g" x="205" y="897" width="28" height="26"/><text x="208" y="904">Protocol</text><text x="211" y="909">ICMP</text><rect class="y" x="205" y="929" width="28" height="12"/><text x="208" y="935">Echo state</text></g>
<g id="n5"><rect class="gs" x="247" y="899" width="28" height="26"/><rect class="g" x="245" y="897" width="28" height="26"/><text x="248" y="904">Protocol</text><text x="251" y="909">UDP</text><rect class="y" x="245" y="929" width="28" height="12"/><text x="248" y="935">Port table</text></g>
<g id="n6"><rect class="gs" x="287" y="899" width="28" height="26"/><rect class="g" x="285" y="897" width="28" height="26"/><text x="288" y="904">Protocol</text><text x="291" y="909">TCP</text><rect class="y" x="285" y="929" width="28" height="12"/><text x="288" y="935">Conn table</text></g>
<g id="n7"><rect class="gs" x="327" y="899" width="28" height="26"/><rect class="g" x="325" y="897" width="28" height="26"/><text x="328" y="904">Protocol</text><text x="331" y="909">DHCP</text><rect class="y" x="325" y="929" width="28" height="12"/><text x="328" y="935">Lease info</text></g>
<g id="n8"><rect class="gs" x="367" y="899" width="28" height="26"/><rect class="g" x="365" y="897" width="28" height="26"/><text x="368" y="904">Protocol</text><text x="371" y="909">DNS</text><rect class="y" x="365" y="929" width="28" height="12"/><text x="368" y="935">DNS cache</text></g>
<g id="n9"><rect class="gs" x="404" y="899" width="28" height="26"/><rect class="g" x="402" y="897" width="28" height="26"/><text x="405" y="904">Protocol</text><text x="408" y="909">TLS</text><rect class="y" x="402" y="929" width="28" height="12"/><text x="405" y="935">Session</text></g>
<g id="n10"><rect class="g" x="445" y="897" width="70" height="71"/><text x="470" y="903">PRC</text></g>
<g id="n11"><rect class="g" x="140" y="980" width="68" height="58"/><text x="150" y="986">Socket layer (API)</text><line class="gi" x1="141" y1="989" x2="207" y2="989"/><text x="145" y="995">open / close / bind</text><line class="gi" x1="141" y1="998" x2="207" y2="998"/><text x="145" y="1004">send / recv / select</text><line class="gi" x1="141" y1="1007" x2="207" y2="1007"/><text x="145" y="1013">connect / listen / accept</text><line class="gi" x1="141" y1="1016" x2="207" y2="1016"/><text x="145" y="1022">setsockopt</text><line class="gi" x1="141" y1="1025" x2="207" y2="1025"/><text x="145" y="1031">getaddrinfo</text></g>
<g id="n12"><rect class="g" x="230" y="980" width="66" height="60"/><text x="240" y="986">Buffer manager (BM)</text><line class="gi" x1="231" y1="989" x2="295" y2="989"/><text x="240" y="995">pbuf alloc (8)</text><line class="gi" x1="231" y1="998" x2="295" y2="998"/><text x="240" y="1004">pbuf free</text><text x="240" y="1011">pbuf chain</text><text x="240" y="1018">pbuf copy</text><text x="240" y="1025">pbuf ref / unref</text><text x="240" y="1032">pool stats</text></g>
<g id="n13"><rect class="gs" x="129" y="1049" width="178" height="33"/><rect class="g" x="127" y="1047" width="178" height="33"/><text x="209" y="1053">NET</text><text x="160" y="1064">Network interface: driver hooks, link status</text><text x="170" y="1070">and packet queue</text></g>
<g id="n14"><rect class="g" x="338" y="985" width="42" height="60"/><text x="341" y="992">Netif (ETH)</text><text x="341" y="1000">Link status</text><text x="341" y="1008">MAC address</text><text x="341" y="1016">MTU</text><text x="341" y="1024">Multicast</text><text x="341" y="1032">Promiscuous</text><text x="341" y="1040">Stats</text></g>
<g id="n15"><rect class="g" x="392" y="985" width="68" height="42"/><text x="396" y="992">Packet classifier (RX path)</text><text x="396" y="1000">Header validation (IP, L4)</text><text x="396" y="1008">Checksum offload</text><text x="396" y="1016">Fragment reassembly</text><text x="396" y="1024">Drop policy</text></g>
<g id="n16"><rect class="g" x="470" y="985" width="50" height="35"/><text x="473" y="992">TX queue (prio)</text><text x="473" y="1000">Scheduler</text><text x="473" y="1008">Traffic shaper</text><text x="473" y="1016">TX done (IRQ)</text></g>
<g id="n17"><rect class="gs" x="332" y="1049" width="175" height="33"/><rect class="g" x="330" y="1047" width="175" height="33"/><text x="410" y="1053">ETH</text><text x="380" y="1064">Ethernet driver: DMA descriptors</text><text x="395" y="1070">and interrupt</text></g>
</svg>
